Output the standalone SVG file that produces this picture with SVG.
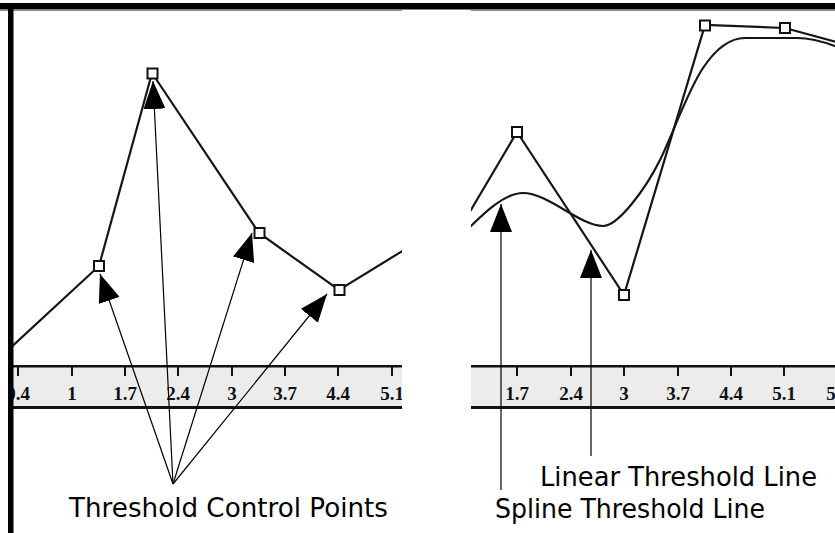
<svg xmlns="http://www.w3.org/2000/svg" width="835" height="533" viewBox="0 0 835 533">
  <style>
    .curve { fill: none; stroke: #151515; stroke-width: 2.2; stroke-linejoin: miter; }
    .pt { fill: #ffffff; stroke: #111111; stroke-width: 2; }
    .band { fill: #ececec; }
    .axis { stroke: #111111; fill: none; }
    .tick { stroke: #111111; stroke-width: 2; }
    .num { font-family: "Liberation Serif", "Times New Roman", serif; font-weight: bold; font-size: 19px; fill: #111111; text-anchor: middle; }
    .label { font-family: "DejaVu Sans", "Liberation Sans", sans-serif; font-size: 26px; fill: #000000; }
    .ptr { stroke: #000000; stroke-width: 1.2; fill: none; marker-end: url(#head); }
  </style>
  <defs>
    <marker id="head" markerUnits="userSpaceOnUse" markerWidth="28" markerHeight="22" viewBox="0 0 28 22" refX="28" refY="11" orient="auto">
      <path d="M0,0 L28,11 L0,22 Z" fill="#000000"/>
    </marker>
    <clipPath id="clipL"><rect x="13" y="11" width="389" height="522"/></clipPath>
    <clipPath id="clipR"><rect x="471" y="11" width="364" height="522"/></clipPath>
  </defs>

  <rect x="0" y="0" width="835" height="533" fill="#ffffff"/>

  <!-- frame -->
  <g id="frame">
    <rect x="0" y="3" width="835" height="6.5" fill="#000000"/>
    <rect x="0" y="9.5" width="402" height="1.5" fill="#8a8a8a"/>
    <rect x="471" y="9.5" width="364" height="1.5" fill="#8a8a8a"/>
  </g>

  <!-- left panel -->
  <g id="left-panel" clip-path="url(#clipL)">
    <g id="left-ruler">
      <rect class="band" x="13" y="366" width="389" height="41"/>
      <line class="axis" x1="13" y1="366.2" x2="402" y2="366.2" stroke-width="2.5"/>
      <line class="axis" x1="13" y1="407.5" x2="402" y2="407.5" stroke-width="3"/>
      <g>
        <line class="tick" x1="18" y1="367" x2="18" y2="376"/>
        <line class="tick" x1="72" y1="367" x2="72" y2="376"/>
        <line class="tick" x1="125" y1="367" x2="125" y2="376"/>
        <line class="tick" x1="178" y1="367" x2="178" y2="376"/>
        <line class="tick" x1="232" y1="367" x2="232" y2="376"/>
        <line class="tick" x1="285" y1="367" x2="285" y2="376"/>
        <line class="tick" x1="338" y1="367" x2="338" y2="376"/>
        <line class="tick" x1="392" y1="367" x2="392" y2="376"/>
      </g>
      <text class="num" x="18" y="400">0.4</text>
      <text class="num" x="72" y="400">1</text>
      <text class="num" x="125" y="400">1.7</text>
      <text class="num" x="178" y="400">2.4</text>
      <text class="num" x="232" y="400">3</text>
      <text class="num" x="285" y="400">3.7</text>
      <text class="num" x="338" y="400">4.4</text>
      <text class="num" x="392" y="400">5.1</text>
    </g>
    <polyline id="left-threshold" class="curve" points="8,350 99,266 152,73 259,233 339,290 404,250"/>
    <g id="left-points">
      <rect id="cp1" class="pt" x="94" y="261" width="10" height="10"/>
      <rect id="cp2" class="pt" x="147.5" y="68.5" width="10" height="10"/>
      <rect id="cp3" class="pt" x="254.5" y="228" width="10" height="10"/>
      <rect id="cp4" class="pt" x="334.5" y="285" width="10" height="10"/>
    </g>
  </g>

  <!-- right panel -->
  <g id="right-panel" clip-path="url(#clipR)">
    <g id="right-ruler">
      <rect class="band" x="471" y="366" width="364" height="41"/>
      <line class="axis" x1="471" y1="366.2" x2="835" y2="366.2" stroke-width="2.5"/>
      <line class="axis" x1="471" y1="407.5" x2="835" y2="407.5" stroke-width="3"/>
      <g>
        <line class="tick" x1="517" y1="367" x2="517" y2="376"/>
        <line class="tick" x1="571" y1="367" x2="571" y2="376"/>
        <line class="tick" x1="624" y1="367" x2="624" y2="376"/>
        <line class="tick" x1="678" y1="367" x2="678" y2="376"/>
        <line class="tick" x1="731" y1="367" x2="731" y2="376"/>
        <line class="tick" x1="784" y1="367" x2="784" y2="376"/>
      </g>
      <text class="num" x="517" y="400">1.7</text>
      <text class="num" x="571" y="400">2.4</text>
      <text class="num" x="624" y="400">3</text>
      <text class="num" x="678" y="400">3.7</text>
      <text class="num" x="731" y="400">4.4</text>
      <text class="num" x="784" y="400">5.1</text>
      <text class="num" x="838" y="400">5.8</text>
    </g>
    <polyline id="linear-threshold" class="curve" points="468,215 517,132 624,295 705,25 785,28 840,43"/>
    <path id="spline-threshold" class="curve" d="M468,229 C485,212 505,193 523,193 C548,193 580,226 603,226 C618,226 645,190 660,160 C672,136 688,90 703,68 C715,50 728,38 745,38 L797,38 C812,38 825,42 840,48"/>
    <g id="right-points">
      <rect id="rp1" class="pt" x="512" y="127" width="10" height="10"/>
      <rect id="rp2" class="pt" x="619" y="290" width="10" height="10"/>
      <rect id="rp3" class="pt" x="700" y="20.5" width="10" height="10"/>
      <rect id="rp4" class="pt" x="780" y="23" width="10" height="10"/>
    </g>
  </g>

  <!-- left border bar -->
  <rect id="left-border" x="8" y="3" width="5.5" height="530" fill="#000000"/>

  <!-- connectors -->
  <g id="connectors">
    <line class="ptr" x1="173" y1="484" x2="100" y2="274"/>
    <line class="ptr" x1="173" y1="484" x2="153" y2="81"/>
    <line class="ptr" x1="173" y1="484" x2="252" y2="233"/>
    <line class="ptr" x1="173" y1="484" x2="327" y2="294"/>
    <line class="ptr" x1="501" y1="490" x2="501" y2="204" stroke="#707070" stroke-width="1.6"/>
    <line class="ptr" x1="591" y1="456" x2="591" y2="250"/>
  </g>

  <!-- labels -->
  <g id="labels">
    <text id="lbl-control" class="label" x="69" y="517" textLength="319" lengthAdjust="spacingAndGlyphs">Threshold Control Points</text>
    <text id="lbl-linear" class="label" x="540" y="486" textLength="277" lengthAdjust="spacingAndGlyphs">Linear Threshold Line</text>
    <text id="lbl-spline" class="label" x="495" y="518" textLength="270" lengthAdjust="spacingAndGlyphs">Spline Threshold Line</text>
  </g>
</svg>
